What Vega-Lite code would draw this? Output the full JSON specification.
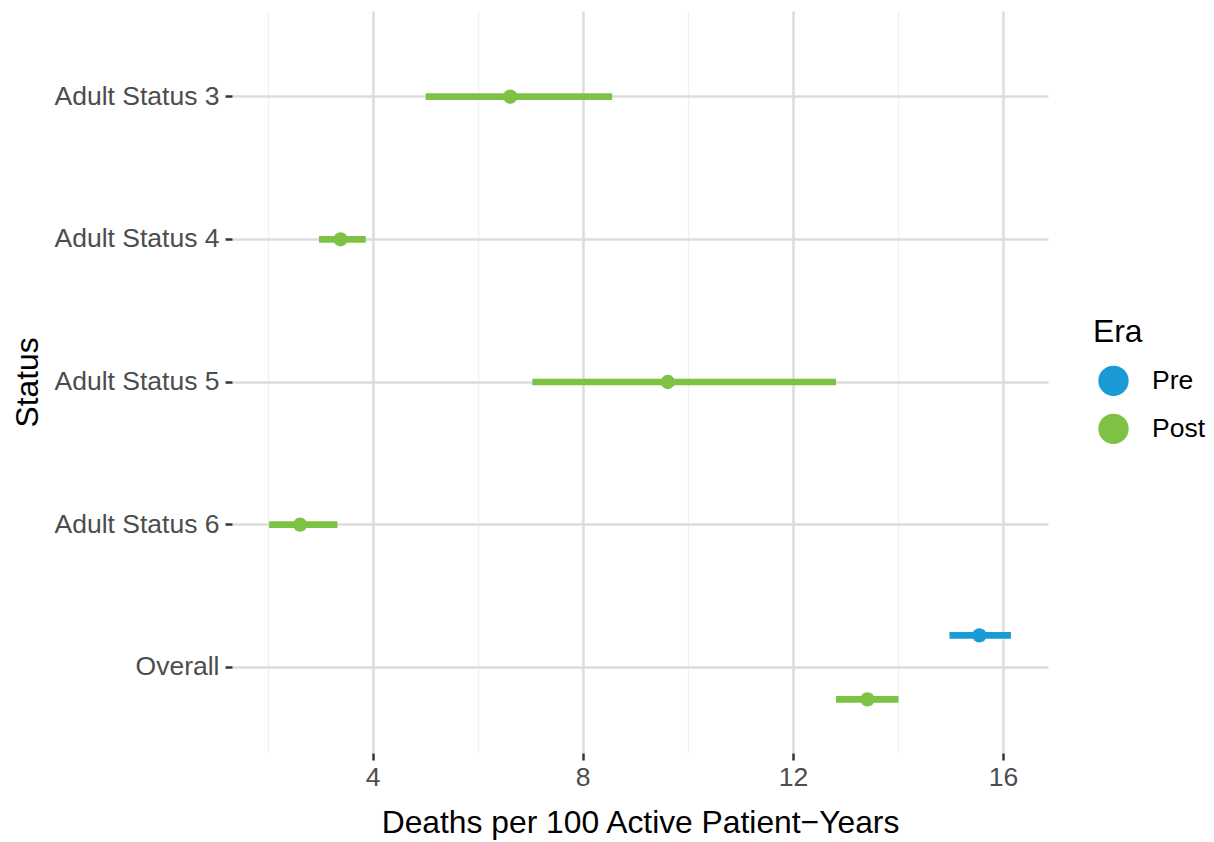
{
  "$schema": "https://vega.github.io/schema/vega-lite/v6.json",
  "width": 816,
  "height": 742,
  "autosize": "none",
  "padding": {"left": 232, "top": 11, "right": 166, "bottom": 89},
  "background": "white",
  "config": {
    "view": {"stroke": null},
    "font": "Liberation Sans"
  },
  "data": {
    "values": [
      {"status": "Adult Status 3", "era": "Post", "rate": 6.62, "lo": 5.01, "hi": 8.56},
      {"status": "Adult Status 4", "era": "Post", "rate": 3.39, "lo": 2.98, "hi": 3.87},
      {"status": "Adult Status 5", "era": "Post", "rate": 9.62, "lo": 7.04, "hi": 12.82},
      {"status": "Adult Status 6", "era": "Post", "rate": 2.62, "lo": 2.03, "hi": 3.33},
      {"status": "Overall", "era": "Pre", "rate": 15.55, "lo": 14.98, "hi": 16.15},
      {"status": "Overall", "era": "Post", "rate": 13.42, "lo": 12.82, "hi": 14.01}
    ]
  },
  "encoding": {
    "x": {
      "field": "rate",
      "type": "quantitative",
      "title": "Deaths per 100 Active Patient−Years",
      "scale": {"domain": [1.324, 16.856], "nice": false, "zero": false},
      "axis": {
        "values": [2, 4, 6, 8, 10, 12, 14, 16],
        "grid": true,
        "gridColor": {"condition": {"test": "datum.value % 4 === 0", "value": "#DCDCDC"}, "value": "#F0F0F0"},
        "gridWidth": {"condition": {"test": "datum.value % 4 === 0", "value": 2.5}, "value": 1.3},
        "labelExpr": "datum.value % 4 === 0 ? datum.label : ''",
        "tickOpacity": {"condition": {"test": "datum.value % 4 === 0", "value": 1}, "value": 0},
        "tickColor": "#333333",
        "tickSize": 7,
        "tickWidth": 2.5,
        "domain": false,
        "labelFontSize": 26.5,
        "labelColor": "#4D4D4D",
        "labelPadding": 4,
        "titleFontSize": 31.8,
        "titleFontWeight": "normal",
        "titleColor": "black",
        "titleX": 408,
        "titleY": 79,
        "titleBaseline": "alphabetic"
      }
    },
    "y": {
      "field": "status",
      "type": "nominal",
      "title": "Status",
      "sort": ["Adult Status 3", "Adult Status 4", "Adult Status 5", "Adult Status 6", "Overall"],
      "scale": {"paddingInner": 0, "paddingOuter": 0.1},
      "axis": {
        "grid": true,
        "bandPosition": 0.5,
        "gridColor": "#DCDCDC",
        "gridWidth": 2.5,
        "domain": false,
        "tickColor": "#333333",
        "tickSize": 7,
        "tickWidth": 2.5,
        "labelFontSize": 26.5,
        "labelColor": "#4D4D4D",
        "labelPadding": 6,
        "titleFontSize": 31.8,
        "titleFontWeight": "normal",
        "titleColor": "black",
        "titleAngle": 270,
        "titleAlign": "center",
        "titleBaseline": "alphabetic",
        "titleX": -195,
        "titleY": 371
      }
    },
    "color": {
      "field": "era",
      "type": "nominal",
      "scale": {"domain": ["Pre", "Post"], "range": ["#1A9BD7", "#7DC242"]},
      "legend": {
        "title": "Era",
        "orient": "none",
        "legendX": 861,
        "legendY": 306,
        "padding": 0,
        "symbolType": "circle",
        "symbolSize": 920,
        "symbolStrokeWidth": 0,
        "symbolOpacity": 1,
        "symbolOffset": 5,
        "titleFontSize": 31.8,
        "titleFontWeight": "normal",
        "titleColor": "black",
        "titlePadding": 16.5,
        "labelFontSize": 26.5,
        "labelColor": "black",
        "labelOffset": 23,
        "rowPadding": 17
      }
    }
  },
  "layer": [
    {
      "transform": [{"filter": "datum.status !== 'Overall'"}],
      "layer": [
        {
          "mark": {"type": "rule", "strokeWidth": 6.7},
          "encoding": {
            "x": {"field": "lo", "type": "quantitative", "title": "Deaths per 100 Active Patient−Years"},
            "x2": {"field": "hi"}
          }
        },
        {
          "mark": {"type": "point", "filled": true, "size": 205, "opacity": 1}
        }
      ]
    },
    {
      "transform": [{"filter": "datum.status === 'Overall'"}],
      "encoding": {
        "yOffset": {
          "field": "era",
          "type": "nominal",
          "scale": {"domain": ["Pre", "Post"], "paddingInner": 0, "paddingOuter": 0.115}
        }
      },
      "layer": [
        {
          "mark": {"type": "rule", "strokeWidth": 6.7},
          "encoding": {
            "x": {"field": "lo", "type": "quantitative", "title": "Deaths per 100 Active Patient−Years"},
            "x2": {"field": "hi"}
          }
        },
        {
          "mark": {"type": "point", "filled": true, "size": 205, "opacity": 1}
        }
      ]
    }
  ]
}
